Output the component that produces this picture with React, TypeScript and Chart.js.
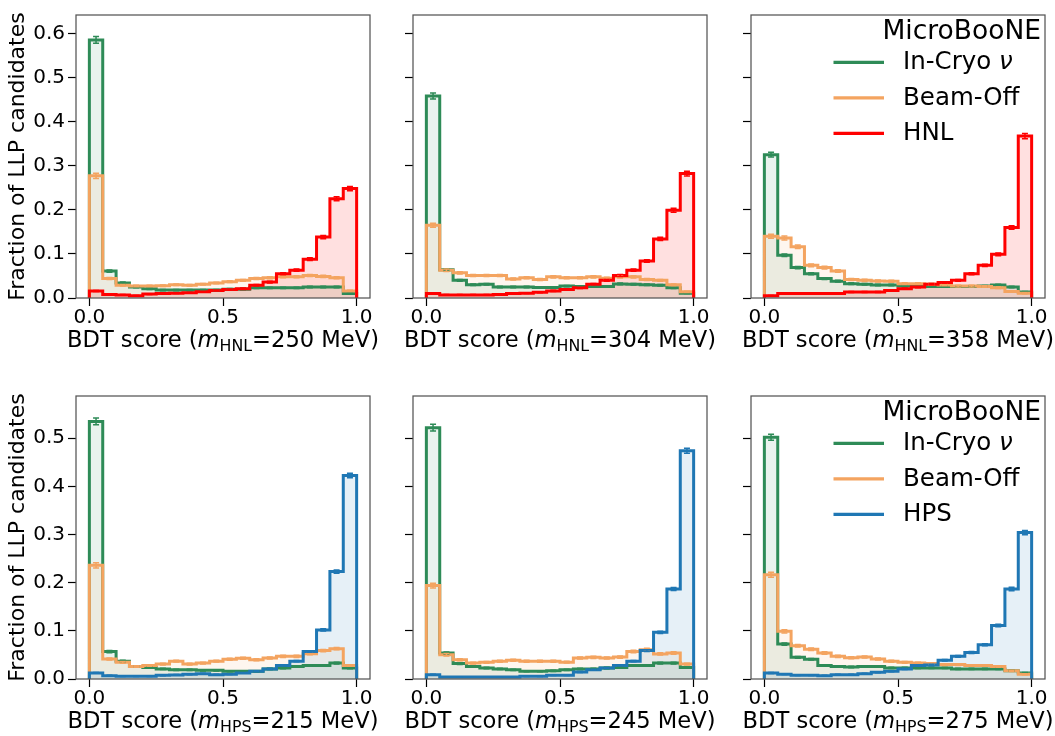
import React, { useEffect, useRef } from 'react';
import { Chart, registerables } from 'chart.js';

Chart.register(...registerables);

const FONT = "'DejaVu Sans', 'Liberation Sans', sans-serif";

// ---------------- data ----------------
const binEdges = [0, 0.05, 0.1, 0.15, 0.2, 0.25, 0.3, 0.35, 0.4, 0.45, 0.5, 0.55, 0.6, 0.65, 0.7, 0.75, 0.8, 0.85, 0.9, 0.95, 1.0];
const xTickValues = [0, 0.5, 1.0];
const yTickValuesTop = [0, 0.1, 0.2, 0.3, 0.4, 0.5, 0.6];
const yTickValuesBottom = [0, 0.1, 0.2, 0.3, 0.4, 0.5];

const legendTitle = 'MicroBooNE';
const bkgLabels = ['In-Cryo ν', 'Beam-Off'];
const signalNames = ['HNL', 'HPS'];
const hnlMasses = ['250', '304', '358'];
const hpsMasses = ['215', '245', '275'];
const yAxisTitle = 'Fraction of LLP candidates';

// HNL 250 MeV
const inCryoHNL250 = [0.585, 0.061, 0.034, 0.025, 0.021, 0.018, 0.018, 0.018, 0.018, 0.018, 0.020, 0.020, 0.023, 0.023, 0.023, 0.023, 0.025, 0.025, 0.025, 0.010];
const beamOffHNL250 = [0.277, 0.044, 0.029, 0.027, 0.027, 0.028, 0.030, 0.029, 0.031, 0.034, 0.037, 0.040, 0.044, 0.046, 0.048, 0.048, 0.051, 0.049, 0.046, 0.016];
const signalHNL250 = [0.016, 0.008, 0.007, 0.005, 0.009, 0.010, 0.011, 0.012, 0.014, 0.017, 0.019, 0.021, 0.029, 0.036, 0.055, 0.063, 0.088, 0.138, 0.225, 0.248];
const errInCryoHNL250 = [0.0075, 0.0025, 0.002, 0.0015, 0.0015, 0.0013, 0.0013, 0.0013, 0.0013, 0.0013, 0.0014, 0.0014, 0.0015, 0.0015, 0.0015, 0.0015, 0.0016, 0.0016, 0.0016, 0.001];
const errBeamOffHNL250 = [0.006, 0.0022, 0.0018, 0.0017, 0.0017, 0.0017, 0.0018, 0.0017, 0.0018, 0.0019, 0.002, 0.0021, 0.0022, 0.0022, 0.0023, 0.0023, 0.0023, 0.0023, 0.0022, 0.0013];
const errSignalHNL250 = [0.0012, 0.0009, 0.0008, 0.0007, 0.0009, 0.001, 0.001, 0.0011, 0.0012, 0.0013, 0.0014, 0.0015, 0.0017, 0.0019, 0.0023, 0.0025, 0.003, 0.0037, 0.0047, 0.005];

// HNL 304 MeV
const inCryoHNL304 = [0.458, 0.064, 0.040, 0.030, 0.031, 0.025, 0.025, 0.025, 0.024, 0.024, 0.027, 0.026, 0.026, 0.026, 0.032, 0.031, 0.030, 0.029, 0.023, 0.011];
const beamOffHNL304 = [0.165, 0.063, 0.057, 0.051, 0.051, 0.051, 0.043, 0.046, 0.042, 0.048, 0.046, 0.046, 0.048, 0.045, 0.048, 0.048, 0.042, 0.040, 0.030, 0.014];
const signalHNL304 = [0.010, 0.007, 0.007, 0.007, 0.007, 0.008, 0.010, 0.011, 0.013, 0.016, 0.019, 0.023, 0.031, 0.040, 0.051, 0.063, 0.084, 0.134, 0.199, 0.282];
const errInCryoHNL304 = [0.0068, 0.0025, 0.002, 0.0017, 0.0017, 0.0016, 0.0016, 0.0016, 0.0015, 0.0015, 0.0016, 0.0016, 0.0016, 0.0016, 0.0018, 0.0017, 0.0017, 0.0017, 0.0015, 0.001];
const errBeamOffHNL304 = [0.0045, 0.0028, 0.0026, 0.0025, 0.0025, 0.0025, 0.0023, 0.0024, 0.0023, 0.0024, 0.0024, 0.0024, 0.0024, 0.0023, 0.0024, 0.0024, 0.0023, 0.0022, 0.002, 0.0013];
const errSignalHNL304 = [0.001, 0.0008, 0.0008, 0.0008, 0.0008, 0.0009, 0.001, 0.001, 0.0011, 0.0013, 0.0014, 0.0015, 0.0018, 0.002, 0.0023, 0.0025, 0.0029, 0.0036, 0.0044, 0.0052];

// HNL 358 MeV
const inCryoHNL358 = [0.325, 0.097, 0.069, 0.055, 0.044, 0.038, 0.0325, 0.031, 0.0295, 0.0295, 0.027, 0.027, 0.026, 0.026, 0.026, 0.026, 0.027, 0.0295, 0.025, 0.0135];
const beamOffHNL358 = [0.140, 0.136, 0.116, 0.074, 0.069, 0.061, 0.042, 0.040, 0.0385, 0.038, 0.0325, 0.0325, 0.031, 0.0295, 0.027, 0.027, 0.026, 0.0235, 0.015, 0.011];
const signalHNL358 = [0.005, 0.010, 0.010, 0.010, 0.010, 0.010, 0.0135, 0.0135, 0.0135, 0.017, 0.021, 0.025, 0.031, 0.035, 0.040, 0.055, 0.074, 0.099, 0.160, 0.367];
const errInCryoHNL358 = [0.0055, 0.003, 0.0026, 0.0023, 0.0021, 0.002, 0.0018, 0.0017, 0.0017, 0.0017, 0.0016, 0.0016, 0.0016, 0.0016, 0.0016, 0.0016, 0.0016, 0.0017, 0.0016, 0.0011];
const errBeamOffHNL358 = [0.0045, 0.0044, 0.004, 0.0032, 0.0031, 0.0029, 0.0024, 0.0024, 0.0023, 0.0023, 0.0021, 0.0021, 0.0021, 0.002, 0.0019, 0.0019, 0.0019, 0.0018, 0.0014, 0.0012];
const errSignalHNL358 = [0.0007, 0.001, 0.001, 0.001, 0.001, 0.001, 0.0011, 0.0011, 0.0011, 0.0013, 0.0014, 0.0015, 0.0017, 0.0018, 0.002, 0.0023, 0.0027, 0.0031, 0.0039, 0.0058];

// HPS 215 MeV
const inCryoHPS215 = [0.535, 0.057, 0.037, 0.026, 0.024, 0.021, 0.019, 0.019, 0.018, 0.018, 0.016, 0.016, 0.016, 0.021, 0.023, 0.026, 0.028, 0.028, 0.033, 0.023];
const beamOffHPS215 = [0.236, 0.0415, 0.0346, 0.026, 0.028, 0.031, 0.037, 0.031, 0.033, 0.037, 0.041, 0.043, 0.040, 0.0435, 0.047, 0.047, 0.0525, 0.059, 0.063, 0.028];
const signalHPS215 = [0.0125, 0.007, 0.0055, 0.0055, 0.0055, 0.0076, 0.0085, 0.0097, 0.011, 0.009, 0.010, 0.0125, 0.016, 0.021, 0.028, 0.037, 0.057, 0.102, 0.223, 0.4225];
const errInCryoHPS215 = [0.0072, 0.0024, 0.0019, 0.0016, 0.0015, 0.0014, 0.0013, 0.0013, 0.0013, 0.0013, 0.0012, 0.0012, 0.0012, 0.0014, 0.0015, 0.0016, 0.0016, 0.0016, 0.0018, 0.0015];
const errBeamOffHPS215 = [0.0055, 0.0021, 0.0019, 0.0016, 0.0017, 0.0018, 0.0019, 0.0018, 0.0018, 0.0019, 0.002, 0.0021, 0.002, 0.0021, 0.0022, 0.0022, 0.0023, 0.0024, 0.0025, 0.0017];
const errSignalHPS215 = [0.0008, 0.0006, 0.0005, 0.0005, 0.0005, 0.0006, 0.0007, 0.0007, 0.0007, 0.0007, 0.0007, 0.0008, 0.0009, 0.0011, 0.0012, 0.0014, 0.0017, 0.0023, 0.0034, 0.0047];

// HPS 245 MeV
const inCryoHPS245 = [0.522, 0.054, 0.032, 0.026, 0.023, 0.021, 0.019, 0.016, 0.016, 0.017, 0.019, 0.021, 0.021, 0.023, 0.024, 0.028, 0.028, 0.033, 0.033, 0.024];
const beamOffHPS245 = [0.194, 0.0505, 0.040, 0.033, 0.0346, 0.037, 0.039, 0.037, 0.037, 0.037, 0.035, 0.0435, 0.045, 0.0435, 0.0456, 0.057, 0.061, 0.052, 0.054, 0.031];
const signalHPS245 = [0.009, 0.004, 0.004, 0.004, 0.004, 0.004, 0.004, 0.0055, 0.0055, 0.008, 0.008, 0.0145, 0.019, 0.023, 0.028, 0.037, 0.059, 0.097, 0.187, 0.474];
const errInCryoHPS245 = [0.007, 0.0023, 0.0018, 0.0016, 0.0015, 0.0014, 0.0013, 0.0012, 0.0012, 0.0012, 0.0013, 0.0014, 0.0014, 0.0015, 0.0015, 0.0016, 0.0016, 0.0017, 0.0017, 0.0015];
const errBeamOffHPS245 = [0.005, 0.0025, 0.0022, 0.002, 0.002, 0.0021, 0.0021, 0.0021, 0.0021, 0.0021, 0.002, 0.0022, 0.0023, 0.0022, 0.0023, 0.0025, 0.0026, 0.0024, 0.0025, 0.0019];
const errSignalHPS245 = [0.0007, 0.0004, 0.0004, 0.0004, 0.0004, 0.0004, 0.0004, 0.0005, 0.0005, 0.0006, 0.0006, 0.0009, 0.001, 0.0011, 0.0012, 0.0014, 0.0018, 0.0023, 0.0032, 0.0052];

// HPS 275 MeV
const inCryoHPS275 = [0.502, 0.0726, 0.045, 0.041, 0.028, 0.026, 0.025, 0.026, 0.026, 0.023, 0.023, 0.023, 0.023, 0.023, 0.021, 0.021, 0.021, 0.021, 0.017, 0.0125];
const beamOffHPS275 = [0.2165, 0.099, 0.069, 0.062, 0.054, 0.047, 0.044, 0.0456, 0.0415, 0.037, 0.0346, 0.033, 0.032, 0.030, 0.030, 0.028, 0.028, 0.026, 0.017, 0.010];
const signalHPS275 = [0.0125, 0.010, 0.008, 0.008, 0.007, 0.009, 0.009, 0.011, 0.014, 0.016, 0.021, 0.028, 0.029, 0.039, 0.047, 0.055, 0.071, 0.111, 0.187, 0.304];
const errInCryoHPS275 = [0.0062, 0.0023, 0.0019, 0.0018, 0.0015, 0.0014, 0.0014, 0.0014, 0.0014, 0.0013, 0.0013, 0.0013, 0.0013, 0.0013, 0.0012, 0.0012, 0.0012, 0.0012, 0.0011, 0.0009];
const errBeamOffHPS275 = [0.005, 0.0033, 0.0027, 0.0026, 0.0024, 0.0023, 0.0022, 0.0022, 0.0021, 0.002, 0.0019, 0.0019, 0.0018, 0.0018, 0.0018, 0.0017, 0.0017, 0.0016, 0.0013, 0.001];
const errSignalHPS275 = [0.0009, 0.0008, 0.0007, 0.0007, 0.0007, 0.0008, 0.0008, 0.0009, 0.001, 0.0011, 0.0012, 0.0014, 0.0014, 0.0016, 0.0018, 0.0019, 0.0022, 0.0027, 0.0036, 0.0045];

// ---------------- styling / layout ----------------
const COLOR_INCRYO = '#2e8b57';
const COLOR_BEAMOFF = '#f4a460';
const COLOR_HNL = '#ff0000';
const COLOR_HPS = '#1f77b4';
const FILL_INCRYO = 'rgba(46,139,87,0.10)';
const FILL_BEAMOFF = 'rgba(244,164,96,0.10)';
const FILL_HNL = 'rgba(255,0,0,0.12)';
const FILL_HPS = 'rgba(31,119,180,0.11)';

const COL_LEFT = [76, 413, 751];
const ROW_TOP = [15, 396];
const PLOT_W = 294;
const PLOT_H = 283;
const Y_MAX = [0.6415, 0.5877];
const X_MIN = -0.05;
const X_MAX = 1.05;
const PAD_L = 76;
const PAD_T = 15;
const PAD_R = 11;
const PAD_B = 58;
const TICK_SIZE = 20;
const LABEL_SIZE = 22.6;

type PanelSpec = {
  row: number;
  col: number;
  signalName: string;
  mass: string;
  series: { label: string; color: string; fill: string; values: number[]; errors: number[] }[];
};

function makePanel(row: number, col: number, inCryo: number[], eInCryo: number[], beamOff: number[], eBeamOff: number[], signal: number[], eSignal: number[]): PanelSpec {
  const signalName = signalNames[row];
  return {
    row,
    col,
    signalName,
    mass: row === 0 ? hnlMasses[col] : hpsMasses[col],
    series: [
      { label: bkgLabels[0], color: COLOR_INCRYO, fill: FILL_INCRYO, values: inCryo, errors: eInCryo },
      { label: bkgLabels[1], color: COLOR_BEAMOFF, fill: FILL_BEAMOFF, values: beamOff, errors: eBeamOff },
      { label: signalName, color: row === 0 ? COLOR_HNL : COLOR_HPS, fill: row === 0 ? FILL_HNL : FILL_HPS, values: signal, errors: eSignal },
    ],
  };
}

const panels: PanelSpec[] = [
  makePanel(0, 0, inCryoHNL250, errInCryoHNL250, beamOffHNL250, errBeamOffHNL250, signalHNL250, errSignalHNL250),
  makePanel(0, 1, inCryoHNL304, errInCryoHNL304, beamOffHNL304, errBeamOffHNL304, signalHNL304, errSignalHNL304),
  makePanel(0, 2, inCryoHNL358, errInCryoHNL358, beamOffHNL358, errBeamOffHNL358, signalHNL358, errSignalHNL358),
  makePanel(1, 0, inCryoHPS215, errInCryoHPS215, beamOffHPS215, errBeamOffHPS215, signalHPS215, errSignalHPS215),
  makePanel(1, 1, inCryoHPS245, errInCryoHPS245, beamOffHPS245, errBeamOffHPS245, signalHPS245, errSignalHPS245),
  makePanel(1, 2, inCryoHPS275, errInCryoHPS275, beamOffHPS275, errBeamOffHPS275, signalHPS275, errSignalHPS275),
];

function stepPoints(values: number[]) {
  const pts: { x: number; y: number }[] = [{ x: binEdges[0], y: 0 }];
  values.forEach((v, i) => {
    pts.push({ x: binEdges[i], y: v });
    pts.push({ x: binEdges[i + 1], y: v });
  });
  pts.push({ x: binEdges[binEdges.length - 1], y: 0 });
  return pts;
}

function drawLabelWithNu(ctx: CanvasRenderingContext2D, text: string, x: number, y: number, size: number) {
  const idx = text.indexOf('ν');
  if (idx < 0) {
    ctx.font = `${size}px ${FONT}`;
    ctx.fillText(text, x, y);
    return;
  }
  const pre = text.slice(0, idx);
  ctx.font = `${size}px ${FONT}`;
  ctx.fillText(pre, x, y);
  const w = ctx.measureText(pre).width;
  ctx.font = `italic ${size}px ${FONT}`;
  ctx.fillText('ν', x + w, y);
}

function makeDecorPlugin(panel: PanelSpec) {
  return {
    id: 'decor' + panel.row + panel.col,
    afterDatasetsDraw(chart: any) {
      const ctx: CanvasRenderingContext2D = chart.ctx;
      const xs = chart.scales.x;
      const ys = chart.scales.y;
      panel.series.forEach((s) => {
        ctx.save();
        ctx.strokeStyle = s.color;
        ctx.lineWidth = 1.5;
        s.values.forEach((v, i) => {
          const xc = xs.getPixelForValue((binEdges[i] + binEdges[i + 1]) / 2);
          const y1 = ys.getPixelForValue(v - s.errors[i]);
          const y2 = ys.getPixelForValue(v + s.errors[i]);
          ctx.beginPath();
          ctx.moveTo(xc, y1);
          ctx.lineTo(xc, y2);
          ctx.moveTo(xc - 3, y1);
          ctx.lineTo(xc + 3, y1);
          ctx.moveTo(xc - 3, y2);
          ctx.lineTo(xc + 3, y2);
          ctx.stroke();
        });
        ctx.restore();
      });
    },
    afterDraw(chart: any) {
      const ctx: CanvasRenderingContext2D = chart.ctx;
      const { left, top, right, bottom } = chart.chartArea;
      ctx.save();
      // frame
      ctx.strokeStyle = '#555555';
      ctx.lineWidth = 1.25;
      ctx.strokeRect(left, top, right - left, bottom - top);

      ctx.fillStyle = '#000';
      // x-axis title with subscript
      const cx = (left + right) / 2;
      const baseY = bottom + 49;
      const parts = [
        { t: 'BDT score (', f: `${LABEL_SIZE}px ${FONT}`, dy: 0 },
        { t: 'm', f: `italic ${LABEL_SIZE}px ${FONT}`, dy: 0 },
        { t: panel.signalName, f: `${LABEL_SIZE * 0.7}px ${FONT}`, dy: 4 },
        { t: `=${panel.mass} MeV)`, f: `${LABEL_SIZE}px ${FONT}`, dy: 0 },
      ];
      let total = 0;
      parts.forEach((p) => {
        ctx.font = p.f;
        total += ctx.measureText(p.t).width;
      });
      let x = cx - total / 2;
      ctx.textBaseline = 'alphabetic';
      ctx.textAlign = 'left';
      parts.forEach((p) => {
        ctx.font = p.f;
        ctx.fillText(p.t, x, baseY + p.dy);
        x += ctx.measureText(p.t).width;
      });

      // y-axis title
      if (panel.col === 0) {
        ctx.save();
        ctx.translate(18, (top + bottom) / 2);
        ctx.rotate(-Math.PI / 2);
        ctx.font = `22px ${FONT}`;
        ctx.textAlign = 'center';
        ctx.textBaseline = 'middle';
        ctx.fillText(yAxisTitle, 0, 0);
        ctx.restore();
      }

      // legend
      if (panel.col === 2) {
        ctx.textBaseline = 'middle';
        ctx.textAlign = 'right';
        ctx.font = `26.5px ${FONT}`;
        ctx.fillText(legendTitle, right - 4, top + 17);
        ctx.textAlign = 'left';
        panel.series.forEach((s, k) => {
          const y = top + 47.3 + 35.5 * k;
          ctx.strokeStyle = s.color;
          ctx.lineWidth = 3.3;
          ctx.beginPath();
          ctx.moveTo(right - 211.5, y);
          ctx.lineTo(right - 161, y);
          ctx.stroke();
          ctx.fillStyle = '#000';
          drawLabelWithNu(ctx, s.label, right - 142, y + 0.5, 24.5);
        });
      }
      ctx.restore();
    },
  };
}

function Panel({ panel }: { panel: PanelSpec }) {
  const ref = useRef<HTMLCanvasElement | null>(null);
  const width = PAD_L + PLOT_W + PAD_R;
  const height = PAD_T + PLOT_H + PAD_B;
  useEffect(() => {
    if (!ref.current) return;
    const yTicks = panel.row === 0 ? yTickValuesTop : yTickValuesBottom;
    const datasets = panel.series.map((s, i) => ({
      label: s.label,
      data: stepPoints(s.values),
      borderColor: s.color,
      backgroundColor: s.fill,
      borderWidth: 3,
      fill: 'origin',
      pointRadius: 0,
      tension: 0,
      borderJoinStyle: 'miter',
      order: 3 - i,
    }));
    const chart = new Chart(ref.current, {
      type: 'line',
      data: { datasets } as any,
      options: {
        responsive: false,
        animation: false,
        events: [],
        layout: { padding: { left: 0, top: PAD_T, right: PAD_R, bottom: 0 } },
        plugins: {
          legend: { display: false },
          tooltip: { enabled: false },
          filler: { drawTime: 'beforeDatasetsDraw' },
        } as any,
        scales: {
          x: {
            type: 'linear',
            min: X_MIN,
            max: X_MAX,
            afterBuildTicks: (s: any) => {
              s.ticks = xTickValues.map((v) => ({ value: v }));
            },
            afterFit: (s: any) => {
              s.height = PAD_B;
            },
            grid: { drawOnChartArea: false, drawTicks: true, tickLength: 8, tickColor: '#000', tickWidth: 1.2, color: '#000' },
            border: { display: false },
            ticks: {
              color: '#000',
              font: { size: TICK_SIZE, family: FONT },
              padding: 0,
              maxRotation: 0,
              autoSkip: false,
              callback: (v: any) => Number(v).toFixed(1),
            },
          },
          y: {
            type: 'linear',
            min: 0,
            max: Y_MAX[panel.row],
            afterBuildTicks: (s: any) => {
              s.ticks = yTicks.map((v) => ({ value: v }));
            },
            afterFit: (s: any) => {
              s.width = PAD_L;
            },
            grid: { drawOnChartArea: false, drawTicks: true, tickLength: 8, tickColor: '#000', tickWidth: 1.2, color: '#000' },
            border: { display: false },
            ticks: {
              display: panel.col === 0,
              color: '#000',
              font: { size: TICK_SIZE, family: FONT },
              padding: 3,
              autoSkip: false,
              callback: (v: any) => Number(v).toFixed(1),
            },
          },
        } as any,
      },
      plugins: [makeDecorPlugin(panel)],
    } as any);
    return () => chart.destroy();
  }, [panel]);
  return (
    <canvas
      ref={ref}
      width={width}
      height={height}
      style={{
        position: 'absolute',
        left: COL_LEFT[panel.col] - PAD_L,
        top: ROW_TOP[panel.row] - PAD_T,
        width,
        height,
      }}
    />
  );
}

export default function App() {
  return (
    <div
      style={{
        position: 'absolute',
        left: 0,
        top: 0,
        width: 1055,
        height: 736,
        background: '#fff',
        overflow: 'hidden',
      }}
    >
      {panels.map((p) => (
        <Panel key={`${p.row}-${p.col}`} panel={p} />
      ))}
    </div>
  );
}
